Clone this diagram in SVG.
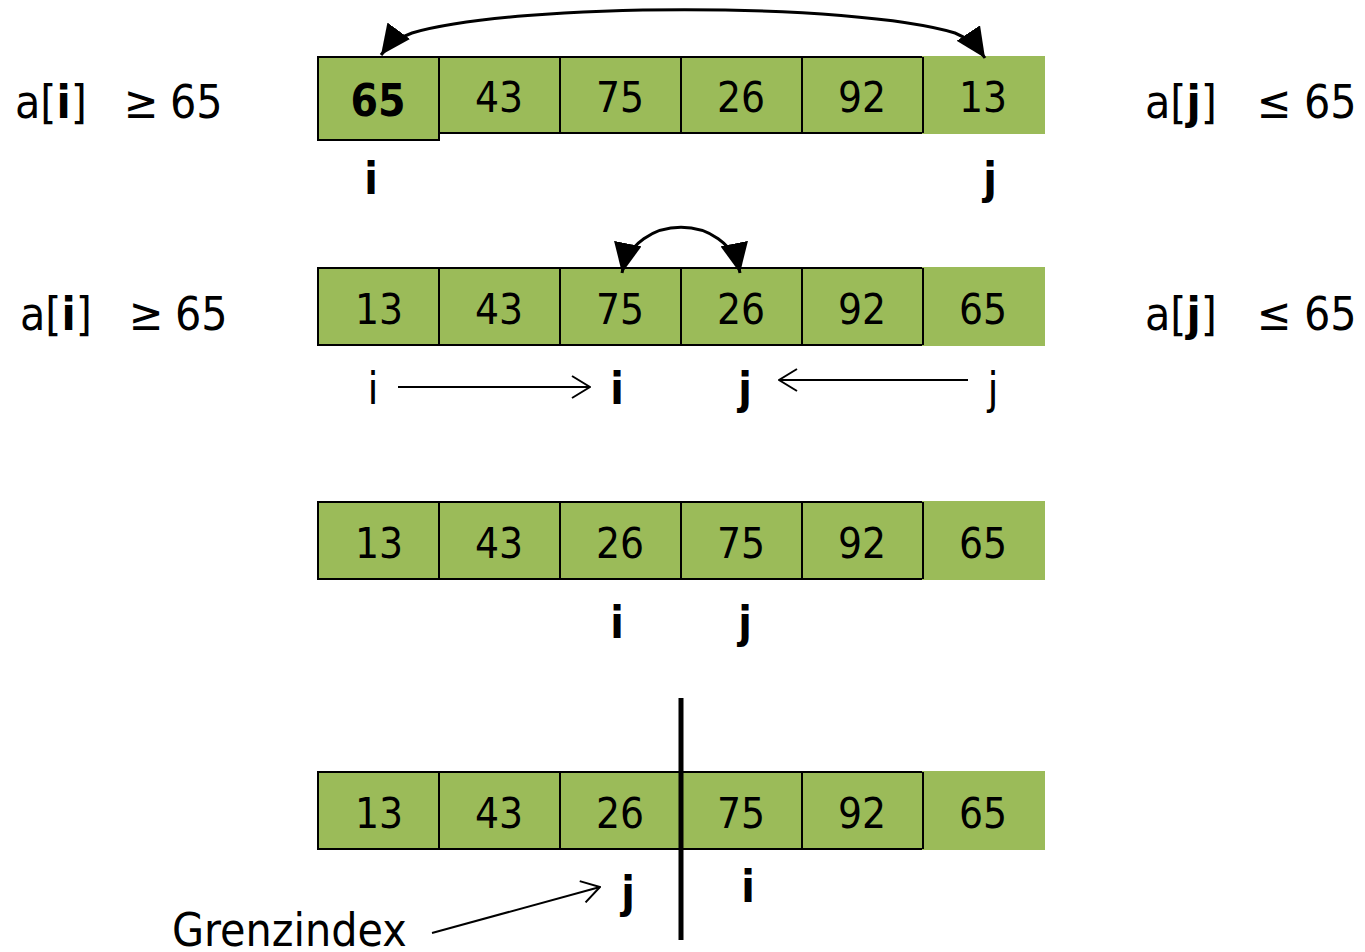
<svg xmlns="http://www.w3.org/2000/svg" width="1365" height="952" viewBox="0 0 1365 952">
<style>
text{font-family:"DejaVu Sans Condensed","DejaVu Sans",sans-serif;font-stretch:condensed;fill:#000}
.cell{fill:#9bbb59;stroke:#000;stroke-width:2}
.cellL{fill:#9bbb59;stroke:#9bbb59;stroke-width:2}
.num{font-size:42px;text-anchor:middle}
.lbl{font-size:46px}
.idx{font-size:44px;font-weight:bold;text-anchor:middle}
.idxr{font-size:44px;text-anchor:middle}
.line{fill:none;stroke:#000;stroke-width:2}
.curve{fill:none;stroke:#000;stroke-width:3}
</style>
<defs>
<marker id="tri" viewBox="0 0 30 28" refX="30" refY="14" markerWidth="30" markerHeight="28" markerUnits="userSpaceOnUse" orient="auto-start-reverse">
<path d="M0,0 L30,14 L0,28 z" fill="#000"/>
</marker>
<marker id="open" viewBox="0 0 20 24" refX="19" refY="12" markerWidth="20" markerHeight="24" markerUnits="userSpaceOnUse" orient="auto">
<path d="M1,1 L19,12 L1,23" fill="none" stroke="#000" stroke-width="2"/>
</marker>
</defs>

<g id="row1">
<rect class="cell" x="318" y="57" width="121" height="83"/>
<rect class="cell" x="439" y="57" width="121" height="76"/>
<rect class="cell" x="560" y="57" width="121" height="76"/>
<rect class="cell" x="681" y="57" width="121" height="76"/>
<rect class="cell" x="802" y="57" width="121" height="76"/>
<rect class="cellL" x="923" y="57" width="121" height="76"/>
<line x1="923" y1="57" x2="923" y2="133" stroke="#000" stroke-width="2"/>
<text class="num" x="378" y="116" font-weight="bold" style="font-size:44px">65</text>
<text class="num" x="499" y="112">43</text>
<text class="num" x="620" y="112">75</text>
<text class="num" x="741" y="112">26</text>
<text class="num" x="862" y="112">92</text>
<text class="num" x="983" y="112">13</text>
<text class="idx" x="371" y="194">i</text>
<text class="idx" x="990" y="194">j</text>
</g>

<g id="row2">
<rect class="cell" x="318" y="268" width="121" height="77"/>
<rect class="cell" x="439" y="268" width="121" height="77"/>
<rect class="cell" x="560" y="268" width="121" height="77"/>
<rect class="cell" x="681" y="268" width="121" height="77"/>
<rect class="cell" x="802" y="268" width="121" height="77"/>
<rect class="cellL" x="923" y="268" width="121" height="77"/>
<line x1="923" y1="268" x2="923" y2="345" stroke="#000" stroke-width="2"/>
<text class="num" x="379" y="324">13</text>
<text class="num" x="499" y="324">43</text>
<text class="num" x="620" y="324">75</text>
<text class="num" x="741" y="324">26</text>
<text class="num" x="862" y="324">92</text>
<text class="num" x="983" y="324">65</text>
<text class="idxr" x="373" y="404">i</text>
<text class="idx" x="617" y="404">i</text>
<text class="idx" x="745" y="404">j</text>
<text class="idxr" x="993" y="404">j</text>
</g>

<g id="row3">
<rect class="cell" x="318" y="502" width="121" height="77"/>
<rect class="cell" x="439" y="502" width="121" height="77"/>
<rect class="cell" x="560" y="502" width="121" height="77"/>
<rect class="cell" x="681" y="502" width="121" height="77"/>
<rect class="cell" x="802" y="502" width="121" height="77"/>
<rect class="cellL" x="923" y="502" width="121" height="77"/>
<line x1="923" y1="502" x2="923" y2="579" stroke="#000" stroke-width="2"/>
<text class="num" x="379" y="558">13</text>
<text class="num" x="499" y="558">43</text>
<text class="num" x="620" y="558">26</text>
<text class="num" x="741" y="558">75</text>
<text class="num" x="862" y="558">92</text>
<text class="num" x="983" y="558">65</text>
<text class="idx" x="617" y="638">i</text>
<text class="idx" x="745" y="638">j</text>
</g>

<g id="row4">
<rect class="cell" x="318" y="772" width="121" height="77"/>
<rect class="cell" x="439" y="772" width="121" height="77"/>
<rect class="cell" x="560" y="772" width="121" height="77"/>
<rect class="cell" x="681" y="772" width="121" height="77"/>
<rect class="cell" x="802" y="772" width="121" height="77"/>
<rect class="cellL" x="923" y="772" width="121" height="77"/>
<line x1="923" y1="772" x2="923" y2="849" stroke="#000" stroke-width="2"/>
<text class="num" x="379" y="828">13</text>
<text class="num" x="499" y="828">43</text>
<text class="num" x="620" y="828">26</text>
<text class="num" x="741" y="828">75</text>
<text class="num" x="862" y="828">92</text>
<text class="num" x="983" y="828">65</text>
<line x1="681" y1="698" x2="681" y2="940" stroke="#000" stroke-width="5"/>
<text class="idx" x="628" y="908">j</text>
<text class="idx" x="748" y="902">i</text>
</g>

<g id="labels">
<text class="lbl" x="15" y="118">a[<tspan font-weight="bold">i</tspan>]<tspan x="124">≥</tspan><tspan x="170">65</tspan></text>
<text class="lbl" x="20" y="330">a[<tspan font-weight="bold">i</tspan>]<tspan x="129">≥</tspan><tspan x="175">65</tspan></text>
<text class="lbl" x="1145" y="118">a[<tspan font-weight="bold">j</tspan>]<tspan x="1257">≤</tspan><tspan x="1304">65</tspan></text>
<text class="lbl" x="1145" y="330">a[<tspan font-weight="bold">j</tspan>]<tspan x="1257">≤</tspan><tspan x="1304">65</tspan></text>
<text id="grenz" class="lbl" x="172" y="946">Grenzindex</text>
</g>

<g id="connectors">
<path class="curve" d="M381,55 Q392,40 412,33 C520,2 850,2 955,33 Q973,40 985,58" marker-start="url(#tri)" marker-end="url(#tri)"/>
<path class="curve" d="M622,273 C634,212 728,212 740,273" marker-start="url(#tri)" marker-end="url(#tri)"/>
<line class="line" x1="398" y1="387" x2="590" y2="387" marker-end="url(#open)"/>
<line class="line" x1="968" y1="380" x2="779" y2="380" marker-end="url(#open)"/>
<line class="line" x1="432" y1="933" x2="600" y2="887" marker-end="url(#open)"/>
</g>
</svg>
